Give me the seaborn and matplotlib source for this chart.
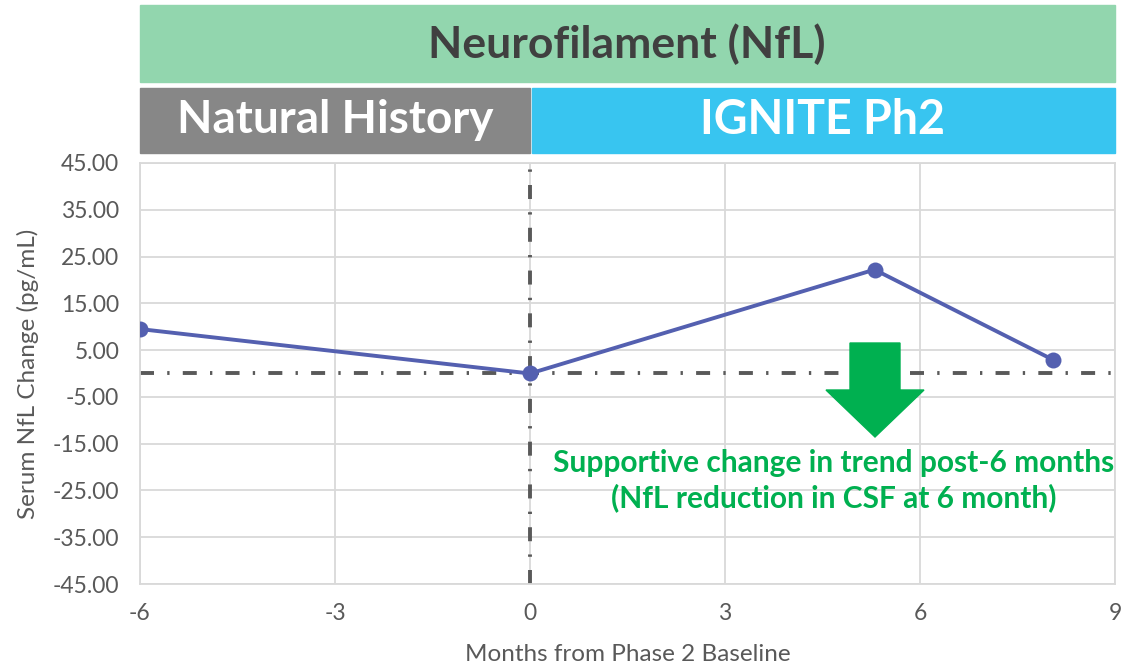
import numpy as np
import pandas as pd
import seaborn as sns
import matplotlib.pyplot as plt
from matplotlib.patches import Rectangle, Polygon

months = [-6, 0, 5.3, 8.05]
nfl_change = [9.5, 0.0, 22.2, 2.9]
x_ticks = [-6, -3, 0, 3, 6, 9]
y_ticks = [-45, -35, -25, -15, -5, 5, 15, 25, 35, 45]

df = pd.DataFrame({'month': months, 'nfl': nfl_change})

sns.set_style('white')
plt.rcParams['font.family'] = ['Lato', 'DejaVu Sans']
plt.rcParams['axes.unicode_minus'] = False

fig = plt.figure(figsize=(11.4, 6.66), dpi=100)
ax = fig.add_axes([0.1228, 0.1231, 0.8553, 0.6322])

ax.set_xlim(-6, 9)
ax.set_ylim(-45, 45)
ax.set_xticks(x_ticks)
ax.set_yticks(y_ticks)
ax.set_yticklabels([f'{v:.2f}' for v in y_ticks])
ax.grid(True, color='#d9d9d9', linewidth=1.3)
ax.set_axisbelow(True)
for s in ax.spines.values():
    s.set_color('#d9d9d9')
    s.set_linewidth(1.3)

dashdot = (0, (3.6, 3.4, 0.6, 3.4))
ax.axhline(0, color='#595959', linewidth=2.8, linestyle=dashdot, zorder=2)
ax.axvline(0, color='#595959', linewidth=2.8, linestyle=dashdot, zorder=2)

sns.lineplot(data=df, x='month', y='nfl', ax=ax, color='#5460b0', linewidth=2.8,
             marker='o', markersize=11.5, markeredgewidth=0, zorder=3)

ax.tick_params(axis='y', colors='#595959', labelsize=16.5, length=0, pad=15)
ax.tick_params(axis='x', colors='#595959', labelsize=16.5, length=0, pad=14)
ax.set_xlabel('Months from Phase 2 Baseline', fontsize=17.5, color='#595959', labelpad=14)
ax.set_ylabel('Serum NfL Change (pg/mL)', fontsize=17.5, color='#595959', labelpad=10)

W, H = 1140, 666
def fx(px): return px / W
def fy(py): return 1 - py / H

# header bars
fig.patches.append(Rectangle((fx(140), fy(82)), fx(1115) - fx(140), fy(5) - fy(82),
                             transform=fig.transFigure, color='#92d6ae'))
fig.patches.append(Rectangle((fx(140), fy(153)), fx(530) - fx(140), fy(88) - fy(153),
                             transform=fig.transFigure, color='#878787'))
fig.patches.append(Rectangle((fx(532), fy(153)), fx(1115) - fx(532), fy(88) - fy(153),
                             transform=fig.transFigure, color='#38c5f0'))
fig.text(fx(627), fy(44), 'Neurofilament (NfL)', ha='center', va='center',
         fontsize=32, fontweight='bold', color='#404040')
fig.text(fx(335), fy(120), 'Natural History', ha='center', va='center',
         fontsize=33, fontweight='bold', color='white')
fig.text(fx(823), fy(120), 'IGNITE Ph2', ha='center', va='center',
         fontsize=33.5, fontweight='bold', color='white')

# green arrow
arrow = [(850, 343), (900, 343), (900, 390), (924, 390), (875, 437),
         (826, 390), (850, 390)]
fig.patches.append(Polygon([(fx(a), fy(b)) for a, b in arrow], closed=True,
                           transform=fig.transFigure, color='#00b050', zorder=5))
fig.text(fx(834), fy(463), 'Supportive change in trend post-6 months', ha='center',
         va='center', fontsize=21.5, fontweight='bold', color='#00b050')
fig.text(fx(834), fy(498), '(NfL reduction in CSF at 6 month)', ha='center',
         va='center', fontsize=21.5, fontweight='bold', color='#00b050')

fig.savefig('out.png', dpi=100)
